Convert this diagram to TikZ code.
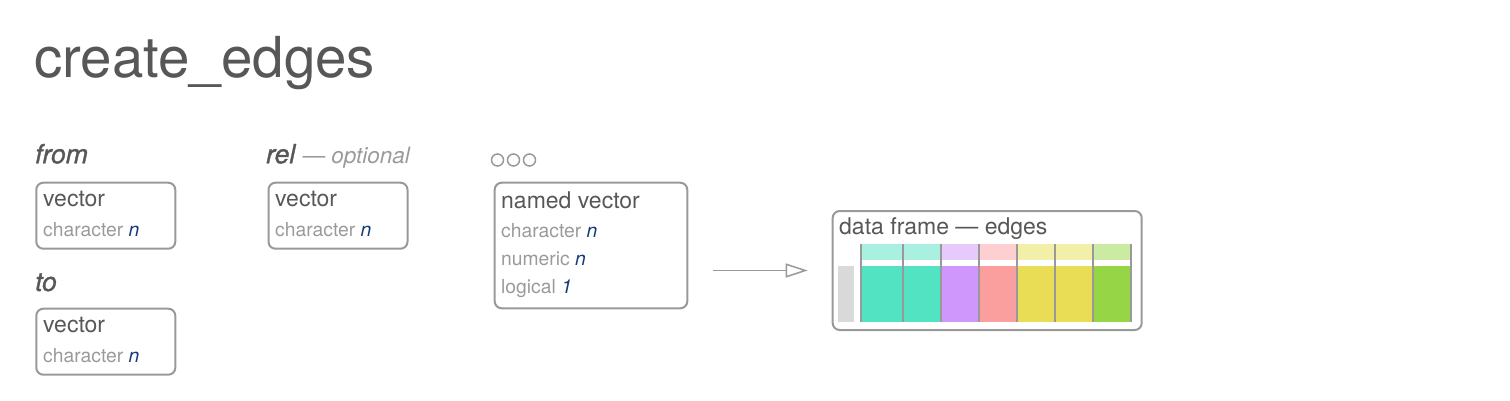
\documentclass[tikz,border=0pt]{standalone}
\usepackage{fontspec}
\setmainfont{TeX Gyre Heros}
\newfontfamily\argfont[FakeBold=1.2]{TeX Gyre Heros}
\usetikzlibrary{arrows.meta,calc}

\definecolor{txtdark}{HTML}{575757}
\definecolor{txtgray}{HTML}{9A9A9A}
\definecolor{boxline}{HTML}{999999}
\definecolor{nblue}{HTML}{173A7A}
\definecolor{idxgray}{HTML}{D9D9D9}
\definecolor{tealA}{HTML}{AAF0E0}
\definecolor{tealB}{HTML}{52E3C2}
\definecolor{purpA}{HTML}{E6CAFB}
\definecolor{purpB}{HTML}{CF97FB}
\definecolor{pinkA}{HTML}{FECFD0}
\definecolor{pinkB}{HTML}{FA9F9E}
\definecolor{yellA}{HTML}{F2EFA8}
\definecolor{yellB}{HTML}{E8DD55}
\definecolor{grnA}{HTML}{CBEAA2}
\definecolor{grnB}{HTML}{96D646}

\tikzset{
    argbox/.style={draw=boxline, line width=2pt, rounded corners=7pt,
        inner sep=0pt, anchor=north west},
    argname/.style={anchor=base west, inner sep=0pt, text=txtdark,
        font=\argfont\fontsize{26.5}{30}\selectfont\itshape},
    typename/.style={anchor=base west, inner sep=0pt, text=txtdark,
        font=\fontsize{23}{27}\selectfont},
    subtype/.style={anchor=base west, inner sep=0pt, text=txtgray,
        font=\fontsize{19.3}{22}\selectfont},
    flow/.style={-{Triangle[open, length=22pt, width=14pt]},
        line width=1.5pt, boxline}
}
\newcommand{\nn}[1]{\textcolor{nblue}{\itshape #1}}

\begin{document}
\begin{tikzpicture}[x=1pt, y=-1pt]

\useasboundingbox (0,0) rectangle (1510,400);

% Title
\node[anchor=base west, inner sep=0pt, text=txtdark,
    font=\fontsize{56.5}{60}\selectfont] (title) at (34,77) {create\_edges};

% from
\node[argname] (fromlbl) at (35,163.3) {from};
\node[argbox, minimum width=139pt, minimum height=66pt] (from) at (35.3,181.7) {};
\node[typename] (fromtype) at (43,206) {vector};
\node[subtype] (fromsub) at (43,236) {character \nn{n}};

% to
\node[argname] (tolbl) at (35,291) {to};
\node[argbox, minimum width=139pt, minimum height=66pt] (to) at (35.3,307.7) {};
\node[typename] (totype) at (43,332) {vector};
\node[subtype] (tosub) at (43,362) {character \nn{n}};

% rel
\node[argname] (rellbl) at (266,163.3)
    {rel {\normalfont\itshape\color{txtgray}\fontsize{22.5}{26}\selectfont --- optional}};
\node[argbox, minimum width=139pt, minimum height=66pt] (rel) at (267.5,181.7) {};
\node[typename] (reltype) at (275,206) {vector};
\node[subtype] (relsub) at (275,236) {character \nn{n}};

% dots
\foreach \cx in {497.5,513.5,529.5}
    \draw[boxline, line width=1.5pt] (\cx,160) circle (6pt);

% named vector
\node[argbox, minimum width=192.6pt, minimum height=125.6pt] (nv) at (493.7,181.7) {};
\node[typename] (nvtype) at (501,208.3) {named vector};
\node[subtype] (nvchr) at (501,237.3) {character \nn{n}};
\node[subtype] (nvnum) at (501,265) {numeric \nn{n}};
\node[subtype] (nvlgl) at (501,293.3) {logical \nn{1}};

% data frame
\node[argbox, minimum width=309pt, minimum height=119pt] (df) at (831.7,210) {};
\node[typename] (dftype) at (839,234.3) {data frame --- edges};

\fill[idxgray] (837.7,265.7) rectangle (854,321.7);
\foreach \xl/\xr/\ca/\cb in {861/902.7/tealA/tealB, 902.7/941/tealA/tealB,
        941/979.3/purpA/purpB, 979.3/1017.3/pinkA/pinkB,
        1017.3/1055.3/yellA/yellB, 1055.3/1093.3/yellA/yellB,
        1093.3/1131/grnA/grnB} {
    \fill[\ca] (\xl,244) rectangle (\xr,260);
    \fill[\cb] (\xl,265.7) rectangle (\xr,321.7);
}
\foreach \x in {861,902.7,941,979.3,1017.3,1055.3,1093.3,1131}
    \draw[boxline, line width=2pt] (\x,244) -- (\x,321.7);

% arrow
\draw[flow] ($(nv.east |- df.west)+(24.5,0)$) -- ($(df.west)+(-24,0)$);

\end{tikzpicture}
\end{document}
